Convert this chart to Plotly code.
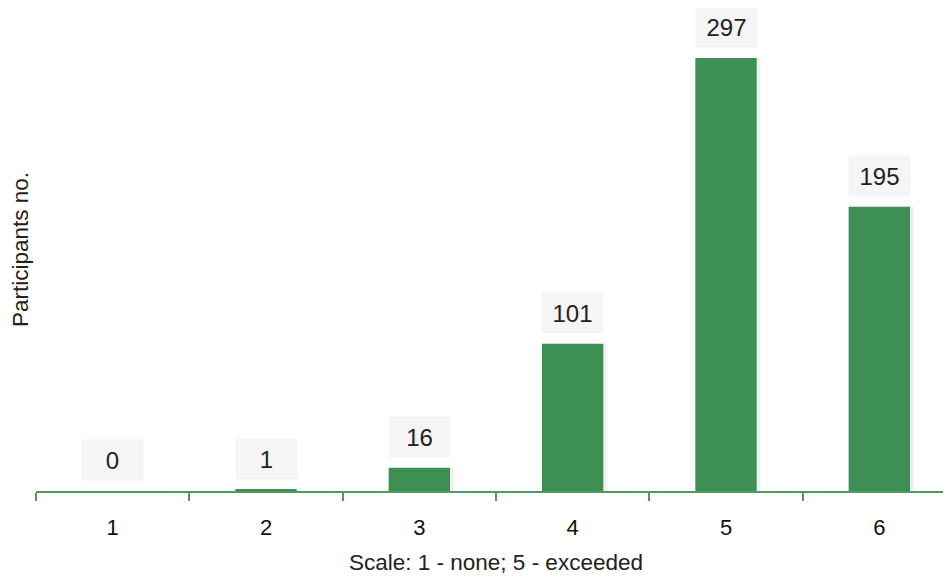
import plotly.graph_objects as go

categories = ["1", "2", "3", "4", "5", "6"]
counts = [0, 1, 16, 101, 297, 195]
x_title = "Scale: 1 - none; 5 - exceeded"
y_title = "Participants no."

bar_color = "#3e8f53"
font_family = "Liberation Sans, Arial, sans-serif"

fig = go.Figure()
# soft shadow on the right side of each bar
fig.add_trace(go.Bar(
    x=categories, y=counts, width=0.425, offset=-0.2,
    marker=dict(color="rgba(0,0,0,0.06)", line=dict(width=0)),
    hoverinfo="skip",
))
fig.add_trace(go.Bar(
    x=categories, y=counts, width=0.4, offset=-0.2,
    marker=dict(color=bar_color, line=dict(width=0)),
    hoverinfo="skip",
))

for i, v in enumerate(counts):
    fig.add_annotation(
        x=i, y=v, xref="x", yref="y", text=str(v), showarrow=False,
        yanchor="bottom", yshift=10, width=61, height=40, borderpad=0,
        bgcolor="#f5f5f5", font=dict(size=24, color="#222222", family=font_family),
    )

fig.update_layout(
    width=951, height=576,
    margin=dict(l=28, r=3, t=0, b=93, autoexpand=False),
    paper_bgcolor="white", plot_bgcolor="white",
    showlegend=False, barmode="overlay",
    font=dict(family=font_family, size=22, color="#222222"),
    xaxis=dict(
        type="category", range=[-0.5, len(categories) - 0.5],
        showline=True, linecolor="#4f9a62", linewidth=2,
        ticks="outside", tickson="boundaries", ticklen=8, tickcolor="#4f9a62", tickwidth=2,
        showgrid=False, zeroline=False, ticklabelstandoff=16,
        tickfont=dict(size=22, color="#111111"),
        title=dict(text=x_title, font=dict(size=22.5, color="#222222"), standoff=15),
    ),
    yaxis=dict(
        range=[0, 331.3], showline=False, showgrid=False, zeroline=False,
        showticklabels=False, ticks="",
        title=dict(text=y_title, font=dict(size=22.5, color="#222222"), standoff=2),
    ),
)

fig.write_html("out.html")
